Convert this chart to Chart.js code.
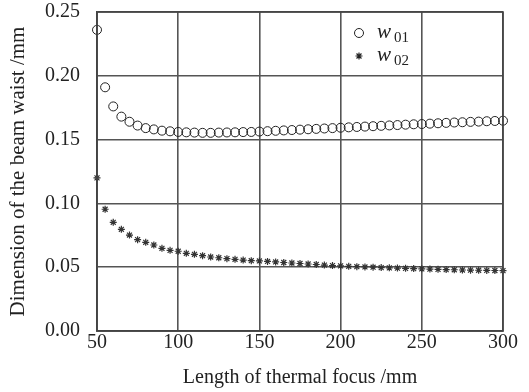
<!DOCTYPE html>
<html>
<head>
<meta charset="utf-8">
<script src="https://cdn.jsdelivr.net/npm/chart.js@4/dist/chart.umd.min.js"></script>
<style>
html,body{margin:0;padding:0;background:#fff;}
#wrap{width:529px;height:392px;position:relative;}
</style>
</head>
<body>
<div id="wrap"><canvas id="c" width="529" height="392"></canvas></div>
<script>
// thermal focus length (mm)
const focus = [50,55,60,65,70,75,80,85,90,95,100,105,110,115,120,125,130,135,140,145,150,155,160,165,170,175,180,185,190,195,200,205,210,215,220,225,230,235,240,245,250,255,260,265,270,275,280,285,290,295,300];
// beam waist w01 (mm)
const w01 = [0.236,0.191,0.176,0.168,0.164,0.161,0.159,0.158,0.157,0.1565,0.156,0.1557,0.1555,0.1553,0.1553,0.1555,0.1556,0.1557,0.1559,0.156,0.1563,0.1566,0.1569,0.1572,0.1575,0.1578,0.1581,0.1584,0.1587,0.159,0.1593,0.1596,0.1599,0.1602,0.1605,0.1608,0.1611,0.1614,0.1617,0.162,0.1622,0.1625,0.1628,0.1631,0.1634,0.1636,0.1639,0.1641,0.1644,0.1646,0.1648];
// beam waist w02 (mm)
const w02 = [0.120,0.0954,0.0852,0.0797,0.0752,0.0716,0.0695,0.0674,0.0648,0.0632,0.0625,0.0609,0.0601,0.059,0.058,0.0574,0.0567,0.0562,0.0556,0.0551,0.0549,0.0545,0.0541,0.0537,0.0533,0.0529,0.0525,0.0521,0.0517,0.0513,0.051,0.0507,0.0504,0.0502,0.05,0.0497,0.0495,0.0493,0.0491,0.0489,0.0487,0.0485,0.0483,0.0481,0.048,0.0478,0.0477,0.0476,0.0475,0.0474,0.0473];
const seriesNames = [['w','01'],['w','02']];
const xTitle = 'Length of thermal focus /mm';
const yTitle = 'Dimension of the beam waist /mm';

const serif = "'Liberation Serif','DejaVu Serif',serif";
const pts = ys => focus.map((x,i)=>({x, y: ys[i]}));

// legend drawn inside the plot, upper middle-right
const legendPlugin = {
  id:'innerLegend',
  afterDatasetsDraw(chart){
    const {ctx, chartArea:a} = chart;
    const x0 = a.left + 262, y0 = a.top + 21;
    chart.data.datasets.forEach((ds,i)=>{
      const y = y0 + i*23;
      ctx.save();
      ctx.strokeStyle = '#222'; ctx.fillStyle = '#222'; ctx.lineWidth = 1;
      if(i===0){ ctx.beginPath(); ctx.arc(x0, y, 4.5, 0, Math.PI*2); ctx.stroke(); }
      else { ctx.lineWidth = 1.2; Chart.helpers.drawPoint(ctx,{pointStyle:'star',radius:3.5,rotation:0,borderWidth:1.2}, x0, y); }
      ctx.fillStyle = '#222'; ctx.textBaseline='middle'; ctx.textAlign='left';
      ctx.font = 'italic 21px '+serif;
      ctx.fillText(seriesNames[i][0], x0+18, y-1);
      const wW = ctx.measureText(seriesNames[i][0]).width;
      ctx.font = '15px '+serif;
      ctx.fillText(seriesNames[i][1], x0+21+wW, y+5);
      ctx.restore();
    });
  }
};

new Chart(document.getElementById('c'),{
  type:'scatter',
  data:{datasets:[
    {label:'w01', data:pts(w01), pointStyle:'circle', pointRadius:4.5, pointBorderWidth:1, borderColor:'#222', backgroundColor:'rgba(255,255,255,0)', clip:false},
    {label:'w02', data:pts(w02), pointStyle:'star', pointRadius:3.5, pointBorderWidth:1.2, borderColor:'#333', backgroundColor:'#333', clip:false}
  ]},
  options:{
    responsive:false, animation:false,
    layout:{padding:{left:4,right:26,top:12,bottom:0}},
    plugins:{legend:{display:false}, tooltip:{enabled:false}},
    scales:{
      x:{type:'linear', min:50, max:300,
        ticks:{stepSize:50, color:'#222', font:{family:serif,size:20}, padding:0},
        grid:{color:'#555', lineWidth:1.6, drawTicks:false},
        border:{color:'#444', width:1.6},
        title:{display:true, text:xTitle, color:'#222', font:{family:serif,size:20}, padding:{top:4,bottom:2}},
        afterFit(s){ s.height = 61; }
      },
      y:{min:0, max:0.25,
        ticks:{stepSize:0.05, color:'#222', font:{family:serif,size:20}, padding:17, callback:v=>v.toFixed(2)},
        grid:{color:'#555', lineWidth:1.6, drawTicks:false},
        border:{color:'#444', width:1.6},
        title:{display:true, text:yTitle, color:'#222', font:{family:serif,size:21}, padding:{top:2,bottom:4}},
        afterFit(s){ s.width = 93; s.paddingTop = 0; s.paddingBottom = 0; }
      }
    }
  },
  plugins:[legendPlugin, {
    id:'frame',
    afterDraw(chart){
      const {ctx, chartArea:a} = chart;
      ctx.save(); ctx.strokeStyle='#444'; ctx.lineWidth=1.6;
      ctx.strokeRect(a.left, a.top, a.right-a.left, a.bottom-a.top);
      ctx.restore();
    }
  }]
});
</script>
</body>
</html>
